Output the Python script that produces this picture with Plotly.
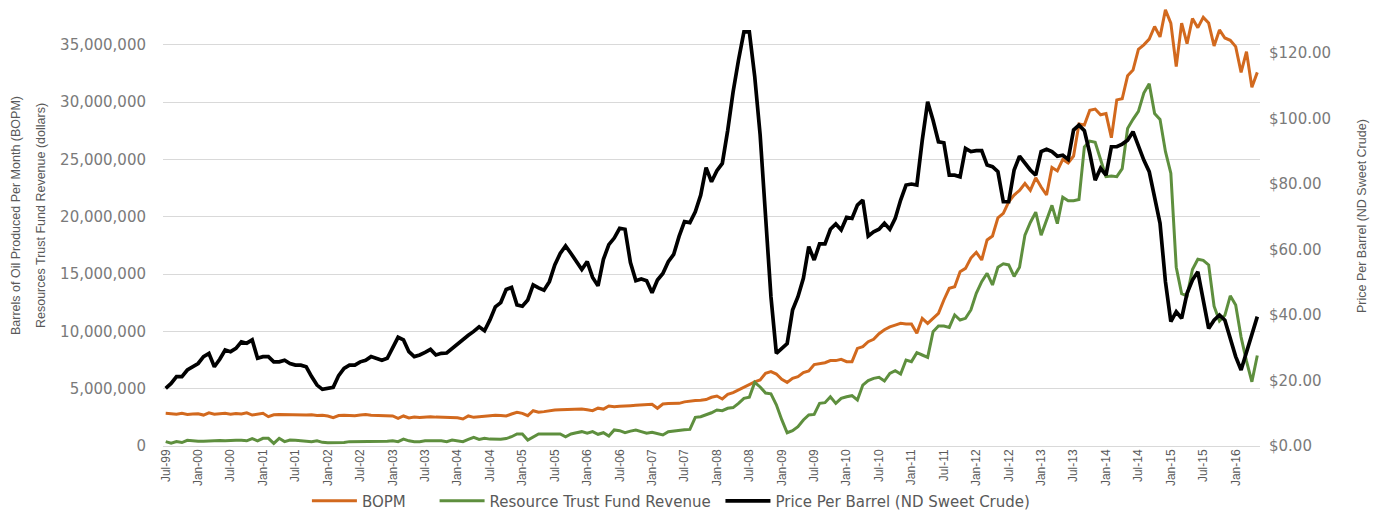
import pandas as pd
import plotly.graph_objects as go

# ---- categories (monthly, Jul-99 .. May-16) ----
months = pd.date_range("1999-07-01", periods=203, freq="MS").strftime("%b-%y").tolist()
tick_labels = months[::6]

# ---- Barrels of oil produced per month (millions) ----
bopm_m = [
    2.85, 2.80, 2.78, 2.85, 2.76, 2.80, 2.82, 2.70, 2.90, 2.78,
    2.82, 2.85, 2.78, 2.84, 2.80, 2.90, 2.70, 2.80, 2.85, 2.56,
    2.72, 2.74, 2.72, 2.70, 2.72, 2.68, 2.70, 2.72, 2.66, 2.68,
    2.62, 2.48, 2.66, 2.68, 2.66, 2.64, 2.70, 2.74, 2.68, 2.66,
    2.66, 2.64, 2.62, 2.42, 2.62, 2.45, 2.52, 2.48, 2.54, 2.56,
    2.52, 2.50, 2.50, 2.48, 2.46, 2.36, 2.62, 2.50, 2.56, 2.62,
    2.66, 2.68, 2.66, 2.62, 2.79, 2.94, 2.85, 2.65, 3.08, 2.94,
    3.00, 3.08, 3.14, 3.17, 3.20, 3.22, 3.20, 3.23, 3.16, 3.08,
    3.30, 3.22, 3.49, 3.43, 3.46, 3.52, 3.52, 3.55, 3.56, 3.58,
    3.64, 3.29, 3.66, 3.70, 3.72, 3.72, 3.85, 3.93, 3.96, 4.00,
    4.05, 4.25, 4.36, 4.10, 4.50, 4.65, 4.90, 5.15, 5.35, 5.60,
    5.76, 6.35, 6.49, 6.28, 5.82, 5.55, 5.90, 6.05, 6.40, 6.55,
    7.10, 7.21, 7.27, 7.45, 7.45, 7.56, 7.36, 7.36, 8.52, 8.67,
    9.10, 9.31, 9.80, 10.15, 10.40, 10.55, 10.70, 10.65, 10.65, 9.83,
    11.14, 10.70, 11.14, 11.58, 12.74, 13.76, 13.90, 15.21, 15.50, 16.40,
    16.90, 16.23, 17.98, 18.32, 19.90, 20.30, 21.30, 21.90, 22.30, 22.90,
    22.30, 23.40, 22.60, 21.90, 24.30, 24.00, 25.00, 24.70, 25.30, 28.10,
    28.00, 29.30, 29.40, 28.90, 29.00, 26.90, 30.20, 30.30, 32.30, 32.80,
    34.60, 35.00, 35.50, 36.60, 35.70, 38.05, 36.90, 33.10, 36.90, 35.10,
    37.30, 36.50, 37.40, 36.90, 34.90, 36.30, 35.60, 35.40, 34.85, 32.60,
    34.40, 31.30, 32.60,
]

# ---- Resource Trust Fund revenue (millions of dollars) ----
rtf_m = [
    0.38, 0.25, 0.38, 0.30, 0.50, 0.45, 0.42, 0.42, 0.45, 0.50,
    0.48, 0.45, 0.50, 0.50, 0.50, 0.45, 0.65, 0.45, 0.67, 0.67,
    0.23, 0.67, 0.38, 0.52, 0.50, 0.45, 0.40, 0.38, 0.45, 0.32,
    0.28, 0.28, 0.28, 0.30, 0.38, 0.38, 0.40, 0.38, 0.38, 0.40,
    0.38, 0.42, 0.45, 0.38, 0.60, 0.45, 0.38, 0.38, 0.45, 0.48,
    0.45, 0.45, 0.38, 0.52, 0.47, 0.38, 0.58, 0.76, 0.58, 0.67,
    0.60, 0.58, 0.58, 0.65, 0.81, 1.05, 1.05, 0.52, 0.81, 1.05,
    1.05, 1.05, 1.05, 1.05, 0.81, 1.05, 1.15, 1.25, 1.11, 1.25,
    1.02, 1.16, 0.87, 1.40, 1.34, 1.16, 1.30, 1.40, 1.25, 1.11,
    1.19, 1.08, 0.96, 1.25, 1.32, 1.40, 1.42, 1.45, 2.50, 2.55,
    2.70, 2.90, 3.14, 3.08, 3.29, 3.35, 3.72, 4.16, 4.25, 5.55,
    5.15, 4.62, 4.55, 3.60, 2.30, 1.16, 1.34, 1.69, 2.27, 2.71,
    2.76, 3.72, 3.78, 4.30, 3.72, 4.16, 4.30, 4.39, 4.01, 5.32,
    5.70, 5.90, 5.99, 5.67, 6.34, 6.57, 6.28, 7.50, 7.36, 8.14,
    7.94, 7.74, 9.98, 10.47, 10.47, 10.35, 11.43, 10.99, 11.14, 11.87,
    13.32, 14.34, 15.07, 14.05, 15.60, 15.90, 15.80, 14.80, 15.60, 18.40,
    19.50, 20.40, 18.40, 19.70, 21.00, 19.40, 21.70, 21.40, 21.40, 21.50,
    26.10, 26.60, 26.50, 25.00, 23.50, 23.56, 23.50, 24.20, 27.70, 28.50,
    29.20, 30.80, 31.60, 29.00, 28.50, 25.70, 23.80, 15.60, 13.30, 13.10,
    15.40, 16.30, 16.20, 15.80, 12.20, 10.90, 11.40, 13.10, 12.30, 9.50,
    7.40, 5.60, 7.90,
]

# ---- Price per barrel, ND sweet crude (dollars) ----
price = [
    17.6, 19.1, 21.2, 21.2, 23.2, 24.2, 25.2, 27.3, 28.3, 24.2,
    26.5, 29.3, 28.8, 29.8, 31.8, 31.4, 32.4, 26.8, 27.3, 27.3,
    25.7, 25.7, 26.2, 25.2, 24.7, 24.7, 24.2, 21.2, 18.6, 17.3,
    17.6, 17.9, 21.5, 23.7, 24.7, 24.7, 25.7, 26.2, 27.3, 26.8,
    26.2, 26.8, 29.8, 33.2, 32.4, 28.8, 27.3, 27.8, 28.6, 29.5,
    27.8, 28.3, 28.4, 29.8, 31.0, 32.5, 33.8, 35.0, 36.4, 35.2,
    38.5, 42.5, 43.8, 47.8, 48.4, 43.1, 42.7, 44.6, 49.2, 48.3,
    47.6, 50.2, 55.3, 58.8, 61.1, 58.8, 56.3, 53.9, 56.3, 51.5,
    48.9, 57.0, 61.5, 63.5, 66.5, 66.2, 56.0, 50.5, 51.0, 50.5,
    46.8, 50.7, 52.7, 56.3, 58.5, 64.0, 68.5, 68.2, 71.5, 76.6,
    85.0, 80.7, 84.1, 86.3, 96.4, 108.2, 117.9, 126.5, 126.5, 112.8,
    95.0, 69.0, 45.6, 28.3, 29.8, 31.3, 41.5, 45.6, 51.2, 60.9,
    56.8, 61.7, 61.7, 66.2, 67.8, 66.0, 69.8, 69.5, 73.6, 75.1,
    64.1, 65.4, 66.2, 68.0, 66.2, 69.5, 75.1, 79.7, 80.0, 79.7,
    93.4, 105.1, 99.5, 92.9, 92.6, 82.7, 82.7, 82.2, 90.9, 89.9,
    90.2, 90.2, 85.8, 85.3, 83.8, 74.6, 74.6, 84.3, 88.5, 86.3,
    84.3, 82.7, 89.9, 90.6, 89.9, 88.5, 88.8, 87.5, 96.5, 98.0,
    96.3, 89.4, 81.2, 84.8, 82.7, 91.4, 91.4, 92.2, 93.4, 96.0,
    91.4, 87.3, 83.8, 76.1, 68.0, 50.2, 38.0, 41.0, 39.0, 46.6,
    50.7, 53.2, 44.6, 35.9, 38.4, 40.0, 38.4, 32.4, 27.3, 23.2,
    28.8, 34.4, 39.5,
]

left_ticks = [0, 5_000_000, 10_000_000, 15_000_000, 20_000_000, 25_000_000, 30_000_000, 35_000_000]
right_ticks = [0, 20, 40, 60, 80, 100, 120]
series_names = ["BOPM", "Resource Trust Fund Revenue", "Price Per Barrel (ND Sweet Crude)"]

bopm = [v * 1e6 for v in bopm_m]
rtf = [v * 1e6 for v in rtf_m]

ORANGE = "#D2691E"
GREEN = "#5E8F3E"
BLACK = "#000000"
GRID = "#D9D9D9"
TXT = "#7A7A7A"
WIDE = "DejaVu Sans"
NARROW = "Liberation Sans"
PAD = "\u00a0"

fig = go.Figure()
fig.add_trace(go.Scatter(x=months, y=bopm, name=series_names[0] + PAD * 5, mode="lines",
                         line=dict(color=ORANGE, width=3)))
fig.add_trace(go.Scatter(x=months, y=rtf, name=series_names[1] + PAD * 1, mode="lines",
                         line=dict(color=GREEN, width=3)))
fig.add_trace(go.Scatter(x=months, y=price, name=series_names[2], mode="lines",
                         line=dict(color=BLACK, width=3.7), yaxis="y2"))

fig.update_layout(
    width=1380, height=510,
    margin=dict(l=163, r=120, t=2, b=64, autoexpand=False),
    paper_bgcolor="white", plot_bgcolor="white",
    showlegend=True,
    legend=dict(orientation="h", x=0.463, xanchor="center", y=-0.124, yanchor="middle",
                font=dict(family=WIDE, size=15, color="#595959"), itemwidth=45,
                bgcolor="rgba(0,0,0,0)"),
    xaxis=dict(type="category", range=[-0.5, len(months) - 0.5],
               tickmode="array", tickvals=tick_labels, ticktext=tick_labels,
               tickangle=-90, tickfont=dict(family=NARROW, size=12, color="#595959"),
               showgrid=False, showline=False, zeroline=False, ticks="", automargin=False),
    yaxis=dict(range=[0, 38.74e6], tickmode="array", tickvals=left_ticks,
               tickformat=",d", showgrid=True, gridcolor=GRID, gridwidth=1,
               zeroline=True, zerolinecolor=GRID, zerolinewidth=1,
               showline=False, ticks="", ticklabelstandoff=16, automargin=False,
               tickfont=dict(family=WIDE, size=15, color=TXT)),
    yaxis2=dict(range=[0, 135.6], overlaying="y", side="right", tickmode="array",
                tickvals=right_ticks, tickformat="$,.2f", showgrid=False, zeroline=False,
                showline=False, ticks="", ticklabelstandoff=8, automargin=False,
                tickfont=dict(family=WIDE, size=15, color=TXT)),
    annotations=[
        dict(text="Barrels of Oil Produced Per Month (BOPM)", textangle=-90,
             xref="paper", yref="paper", x=0, y=0.518, xanchor="center", yanchor="middle",
             xshift=-147, showarrow=False, font=dict(family=NARROW, size=12.5, color="#595959")),
        dict(text="Resources Trust Fund Revenue (dollars)", textangle=-90,
             xref="paper", yref="paper", x=0, y=0.518, xanchor="center", yanchor="middle",
             xshift=-122, showarrow=False, font=dict(family=NARROW, size=12.5, color="#595959")),
        dict(text="Price Per Barrel (ND Sweet Crude)", textangle=-90,
             xref="paper", yref="paper", x=1, y=0.518, xanchor="center", yanchor="middle",
             xshift=102, showarrow=False, font=dict(family=NARROW, size=12.5, color="#595959")),
    ],
)

fig.write_html("out.html", config={"displayModeBar": False},
               post_script="document.body.style.margin='0';document.body.style.overflow='hidden';")
